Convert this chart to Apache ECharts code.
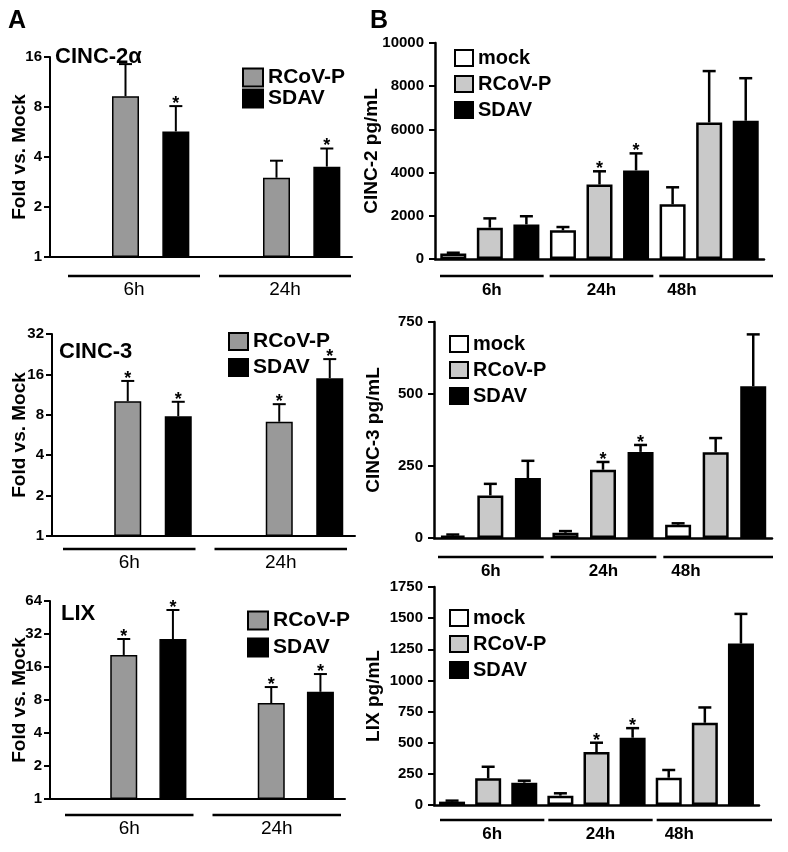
<!DOCTYPE html>
<html>
<head>
<meta charset="utf-8">
<script src="https://cdn.jsdelivr.net/npm/echarts@6/dist/echarts.min.js"></script>
<style>
html, body { margin: 0; padding: 0; background: #fff; }
#main { width: 788px; height: 852px; }
</style>
</head>
<body>
<div id="main"></div>
<script>
var FONT = 'Liberation Sans, Arial, Helvetica, sans-serif';

// ---- panel A: fold vs. mock (log2 axis) ----
var foldTimes = ['6h', '24h'];

var cinc2FoldRcov = [9.3, 3.0];
var cinc2FoldRcovHi = [14.5, 3.8];
var cinc2FoldRcovStar = [0, 0];
var cinc2FoldSdav = [5.7, 3.5];
var cinc2FoldSdavHi = [8.1, 4.5];
var cinc2FoldSdavStar = [1, 1];

var cinc3FoldRcov = [10.1, 7.1];
var cinc3FoldRcovHi = [14.3, 9.6];
var cinc3FoldRcovStar = [1, 1];
var cinc3FoldSdav = [7.8, 15.0];
var cinc3FoldSdavHi = [10.0, 20.8];
var cinc3FoldSdavStar = [1, 1];

var lixFoldRcov = [20.6, 7.5];
var lixFoldRcovHi = [28.8, 10.5];
var lixFoldRcovStar = [1, 1];
var lixFoldSdav = [28.8, 9.5];
var lixFoldSdavHi = [53, 13.8];
var lixFoldSdavStar = [1, 1];

// ---- panel B: pg/mL ----
var concTimes = ['6h', '24h', '48h'];

var cinc2Mock = [250, 1330, 2530];
var cinc2MockHi = [290, 1480, 3320];
var cinc2Rcov = [1450, 3450, 6320];
var cinc2RcovHi = [1880, 4060, 8700];
var cinc2Sdav = [1600, 4100, 6400];
var cinc2SdavHi = [1980, 4890, 8370];

var cinc3Mock = [8, 18, 46];
var cinc3MockHi = [12, 24, 51];
var cinc3Rcov = [148, 237, 298];
var cinc3RcovHi = [188, 264, 347];
var cinc3Sdav = [208, 299, 527];
var cinc3SdavHi = [268, 323, 707];

var lixMock = [27, 75, 219];
var lixMockHi = [35, 94, 281];
var lixRcov = [214, 425, 660];
var lixRcovHi = [307, 500, 783];
var lixSdav = [179, 540, 1296];
var lixSdavHi = [195, 617, 1534];

var noStar = [0, 0, 0];
var star24 = [0, 1, 0];

var chart = echarts.init(document.getElementById('main'));

var grids = [], xAxes = [], yAxes = [], series = [], legends = [];
var titles = [
  { text: 'A', left: 8, top: 9, padding: 0, textStyle: { fontSize: 25, fontWeight: 'bold', color: '#000', fontFamily: FONT } },
  { text: 'B', left: 370, top: 9, padding: 0, textStyle: { fontSize: 25, fontWeight: 'bold', color: '#000', fontFamily: FONT } }
];

function slotData(vals, s) {
  var out = [];
  vals.forEach(function () { out.push('-', '-', '-'); });
  vals.forEach(function (v, g) { out[g * 3 + s] = v; });
  return out;
}

function addPanel(i, p) {
  var nSlots = p.times.length * 3;
  var slotNames = [];
  for (var k = 0; k < nSlots; k++) slotNames.push('s' + k);
  var base = p.log ? 1 : 0;

  grids.push(p.grid);
  xAxes.push({
    gridIndex: i, type: 'category', data: slotNames,
    axisLine: { onZero: false, lineStyle: { color: '#000', width: p.axisW } },
    axisTick: { show: false }, axisLabel: { show: false }, splitLine: { show: false }
  });
  var ya = {
    gridIndex: i, type: p.log ? 'log' : 'value', min: base, max: p.max,
    name: p.yName, nameLocation: 'middle', nameGap: p.nameGap, nameMoveOverlap: false,
    nameTextStyle: { fontSize: 19, fontWeight: 'bold', color: '#000', fontFamily: FONT },
    axisLine: { show: true, lineStyle: { color: '#000', width: p.axisW } },
    axisTick: { show: true, length: 6, lineStyle: { color: '#000', width: 2 } },
    axisLabel: { fontSize: 15, fontWeight: 'bold', color: '#000', fontFamily: FONT, margin: p.labelMargin,
      formatter: function (v) { return String(v); } },
    splitLine: { show: false }
  };
  if (p.log) ya.logBase = 2; else ya.interval = p.interval;
  yAxes.push(ya);

  p.groups.forEach(function (gr, s) {
    if (!gr) return;
    series.push({
      type: 'bar', name: gr.name, xAxisIndex: i, yAxisIndex: i,
      data: slotData(gr.v, s), barWidth: p.barW, barGap: '-100%',
      itemStyle: { color: gr.color, borderColor: '#000', borderWidth: p.barBorder },
      silent: true
    });
    series.push({
      type: 'custom', xAxisIndex: i, yAxisIndex: i, z: 5, silent: true, clip: false,
      data: gr.v.map(function (v, g) { return [g * 3 + s, v, gr.hi[g], gr.star[g]]; }),
      renderItem: function (params, api) {
        var p0 = api.coord([api.value(0), api.value(1)]);
        var p1 = api.coord([api.value(0), api.value(2)]);
        var kids = [
          { type: 'line', shape: { x1: p0[0], y1: p0[1], x2: p1[0], y2: p1[1] }, style: { stroke: '#000', lineWidth: p.errW } },
          { type: 'line', shape: { x1: p1[0] - 6.5, y1: p1[1], x2: p1[0] + 6.5, y2: p1[1] }, style: { stroke: '#000', lineWidth: p.errW } }
        ];
        if (api.value(3)) {
          kids.push({ type: 'text', style: { text: '*', x: p1[0], y: p1[1] + 7, align: 'center', verticalAlign: 'bottom', font: 'bold 18px ' + FONT, fill: '#000' } });
        }
        return { type: 'group', children: kids };
      }
    });
  });

  // time-point brackets under the axis
  series.push({
    type: 'custom', xAxisIndex: i, yAxisIndex: i, silent: true, clip: false,
    data: p.times.map(function (t, g) { return [g * 3, base]; }),
    renderItem: function (params, api) {
      var g = params.dataIndex;
      var cs = params.coordSys;
      var bw = cs.width / nSlots;
      var c0 = api.coord([g * 3, base])[0] - bw / 2;
      var x1 = c0 + p.pad[0];
      var x2 = c0 + 3 * bw + p.pad[1];
      var last = g === p.times.length - 1;
      if (last) x2 += p.lastExt;
      var y = cs.y + cs.height + p.lineOff;
      var tx = (x1 + x2) / 2, align = 'center';
      if (last && p.lastLabelLeft) { tx = x1 + 8; align = 'left'; }
      return {
        type: 'group', children: [
          { type: 'line', shape: { x1: x1, y1: y, x2: x2, y2: y }, style: { stroke: '#000', lineWidth: 2.5 } },
          { type: 'text', style: { text: p.times[g], x: tx, y: y + 14, align: align, verticalAlign: 'middle', font: p.timeFont, fill: '#000' } }
        ]
      };
    }
  });

  legends.push({
    left: p.legend.left, top: p.legend.top, orient: 'vertical', padding: 0,
    itemWidth: p.legend.w, itemHeight: p.legend.h, itemGap: p.legend.gap,
    icon: 'rect', selectedMode: false,
    textStyle: { fontSize: p.legend.font, fontWeight: 'bold', color: '#000', fontFamily: FONT, lineHeight: 20 },
    data: p.groups.filter(Boolean).map(function (gr) {
      return { name: gr.name, itemStyle: { color: gr.color, borderColor: '#000', borderWidth: 2 } };
    })
  });

  if (p.title) {
    titles.push({ text: p.title.text, left: p.title.left, top: p.title.top, padding: 0,
      textStyle: { fontSize: 22, fontWeight: 'bold', color: '#000', fontFamily: FONT } });
  }
}

var GRAY_A = '#999999', GRAY_B = '#c9c9c9';
var timeFontA = '19px ' + FONT, timeFontB = 'bold 17px ' + FONT;

addPanel(0, {
  grid: { left: 50, top: 57, width: 302, height: 200 }, log: true, max: 16,
  yName: 'Fold vs. Mock', nameGap: 21, labelMargin: 8, axisW: 2,
  times: foldTimes, barW: 27, barBorder: 1.5, errW: 2,
  groups: [null,
    { name: 'RCoV-P', color: GRAY_A, v: cinc2FoldRcov, hi: cinc2FoldRcovHi, star: cinc2FoldRcovStar },
    { name: 'SDAV', color: '#000', v: cinc2FoldSdav, hi: cinc2FoldSdavHi, star: cinc2FoldSdavStar }],
  pad: [18, -1], lastExt: 0, lineOff: 19, timeFont: timeFontA,
  legend: { left: 242, top: 67, w: 20, h: 18, gap: 0, font: 21 },
  title: { text: 'CINC-2α', left: 55, top: 46 }
});
addPanel(1, {
  grid: { left: 52, top: 334, width: 303, height: 202 }, log: true, max: 32,
  yName: 'Fold vs. Mock', nameGap: 23, labelMargin: 8, axisW: 2,
  times: foldTimes, barW: 27, barBorder: 1.5, errW: 2,
  groups: [null,
    { name: 'RCoV-P', color: GRAY_A, v: cinc3FoldRcov, hi: cinc3FoldRcovHi, star: cinc3FoldRcovStar },
    { name: 'SDAV', color: '#000', v: cinc3FoldSdav, hi: cinc3FoldSdavHi, star: cinc3FoldSdavStar }],
  pad: [11, -8], lastExt: 0, lineOff: 13, timeFont: timeFontA,
  legend: { left: 228, top: 331, w: 19, h: 17, gap: 5, font: 21 },
  title: { text: 'CINC-3', left: 59, top: 341 }
});
addPanel(2, {
  grid: { left: 50, top: 601, width: 295, height: 198 }, log: true, max: 64,
  yName: 'Fold vs. Mock', nameGap: 21, labelMargin: 8, axisW: 2,
  times: foldTimes, barW: 27, barBorder: 1.5, errW: 2,
  groups: [null,
    { name: 'RCoV-P', color: GRAY_A, v: lixFoldRcov, hi: lixFoldRcovHi, star: lixFoldRcovStar },
    { name: 'SDAV', color: '#000', v: lixFoldSdav, hi: lixFoldSdavHi, star: lixFoldSdavStar }],
  pad: [15, -4], lastExt: 0, lineOff: 16, timeFont: timeFontA,
  legend: { left: 247, top: 610, w: 20, h: 18, gap: 6, font: 21 },
  title: { text: 'LIX', left: 61, top: 603 }
});
addPanel(3, {
  grid: { left: 435, top: 43, width: 329, height: 216 }, log: false, max: 10000, interval: 2000,
  yName: 'CINC-2 pg/mL', nameGap: 54, labelMargin: 11, axisW: 2.5,
  times: concTimes, barW: 26, barBorder: 2.5, errW: 2.5,
  groups: [
    { name: 'mock', color: '#fff', v: cinc2Mock, hi: cinc2MockHi, star: noStar },
    { name: 'RCoV-P', color: GRAY_B, v: cinc2Rcov, hi: cinc2RcovHi, star: star24 },
    { name: 'SDAV', color: '#000', v: cinc2Sdav, hi: cinc2SdavHi, star: star24 }],
  pad: [5, -1], lastExt: 10, lastLabelLeft: true, lineOff: 17, timeFont: timeFontB,
  legend: { left: 454, top: 48, w: 18, h: 16, gap: 6, font: 20 }
});
addPanel(4, {
  grid: { left: 434, top: 322, width: 338, height: 216 }, log: false, max: 750, interval: 250,
  yName: 'CINC-3 pg/mL', nameGap: 51, labelMargin: 11, axisW: 2.5,
  times: concTimes, barW: 26, barBorder: 2.5, errW: 2.5,
  groups: [
    { name: 'mock', color: '#fff', v: cinc3Mock, hi: cinc3MockHi, star: noStar },
    { name: 'RCoV-P', color: GRAY_B, v: cinc3Rcov, hi: cinc3RcovHi, star: star24 },
    { name: 'SDAV', color: '#000', v: cinc3Sdav, hi: cinc3SdavHi, star: star24 }],
  pad: [4, -3], lastExt: 4, lastLabelLeft: true, lineOff: 19, timeFont: timeFontB,
  legend: { left: 449, top: 334, w: 18, h: 16, gap: 6, font: 20 }
});
addPanel(5, {
  grid: { left: 434, top: 587, width: 325, height: 218 }, log: false, max: 1750, interval: 250,
  yName: 'LIX pg/mL', nameGap: 51, labelMargin: 11, axisW: 2.5,
  times: concTimes, barW: 26, barBorder: 2.5, errW: 2.5,
  groups: [
    { name: 'mock', color: '#fff', v: lixMock, hi: lixMockHi, star: noStar },
    { name: 'RCoV-P', color: GRAY_B, v: lixRcov, hi: lixRcovHi, star: star24 },
    { name: 'SDAV', color: '#000', v: lixSdav, hi: lixSdavHi, star: star24 }],
  pad: [6, 2], lastExt: 11, lastLabelLeft: true, lineOff: 15, timeFont: timeFontB,
  legend: { left: 449, top: 608, w: 18, h: 16, gap: 6, font: 20 }
});

chart.setOption({
  animation: false,
  backgroundColor: '#fff',
  title: titles,
  grid: grids,
  xAxis: xAxes,
  yAxis: yAxes,
  legend: legends,
  series: series
});
</script>
</body>
</html>
